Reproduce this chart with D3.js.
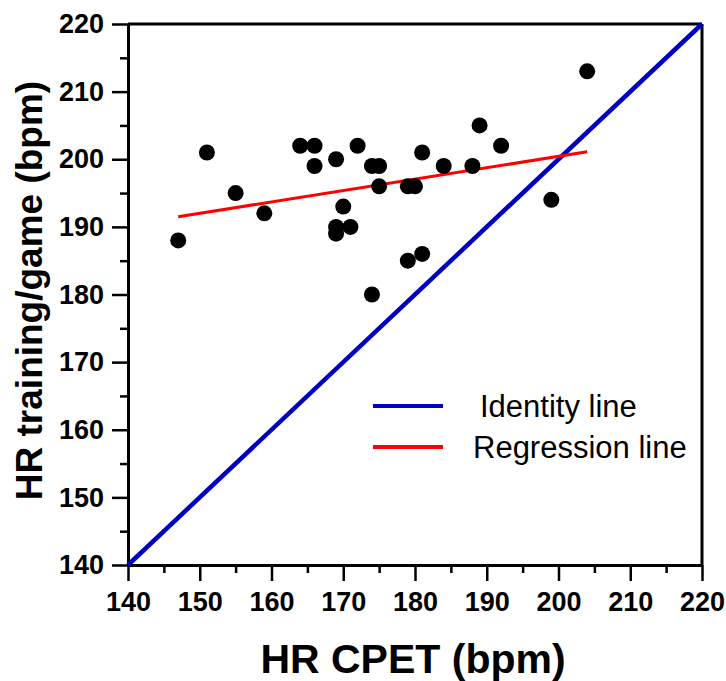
<!DOCTYPE html>
<meta charset="utf-8">
<style>
body { margin: 0; background: #fff; font-family: "Liberation Sans", Arial, sans-serif; }
.axis path, .axis line { stroke: #000; fill: none; }
.axis text { font-family: "Liberation Sans", Arial, sans-serif; font-weight: bold; font-size: 27px; fill: #000; }
</style>
<body>
<script src="https://cdn.jsdelivr.net/npm/d3@7"></script>
<script>
// HR from CPET (x) vs HR in training/game (y), one dot per player
var hrCpet = [147, 151, 155, 159, 164, 166, 166, 169, 172, 170, 169, 169, 171, 174,
              175, 175, 181, 179, 180, 179, 181, 174, 184, 188, 189, 192, 199, 204];
var hrGame = [188, 201, 195, 192, 202, 202, 199, 200, 202, 193, 190, 189, 190, 199,
              199, 196, 201, 196, 196, 185, 186, 180, 199, 199, 205, 202, 194, 213];
var regressionX = [147, 204];
var regressionY = [191.5, 201.1];
var identity = [140, 220];
var majorTicks = [140, 150, 160, 170, 180, 190, 200, 210, 220];
var minorTicks = [145, 155, 165, 175, 185, 195, 205, 215];
var legendLabels = ["Identity line", "Regression line"];

var margin = {top: 24, right: 24, bottom: 116, left: 128},
    width = 726 - margin.left - margin.right,
    height = 681 - margin.top - margin.bottom;

var x = d3.scaleLinear().domain([140, 220]).range([0, width]);
var y = d3.scaleLinear().domain([140, 220]).range([height, 0]);

var svg = d3.select("body").append("svg")
    .attr("width", 726)
    .attr("height", 681)
  .append("g")
    .attr("transform", "translate(" + margin.left + "," + margin.top + ")");

// box on top and right
svg.append("line").attr("x1", 0).attr("x2", width).attr("y1", 0).attr("y2", 0)
    .attr("stroke", "#000").attr("stroke-width", 3);
svg.append("line").attr("x1", width).attr("x2", width).attr("y1", 0).attr("y2", height)
    .attr("stroke", "#000").attr("stroke-width", 3);

// minor ticks
svg.append("g").attr("class", "axis")
    .attr("transform", "translate(0," + height + ")")
    .call(d3.axisBottom(x).tickValues(minorTicks).tickSize(8).tickFormat(""))
    .call(function(g) { g.select(".domain").remove(); g.selectAll("line").attr("stroke-width", 2.5); });
svg.append("g").attr("class", "axis")
    .call(d3.axisLeft(y).tickValues(minorTicks).tickSize(8).tickFormat(""))
    .call(function(g) { g.select(".domain").remove(); g.selectAll("line").attr("stroke-width", 2.5); });

// major axes
svg.append("g").attr("class", "axis")
    .attr("transform", "translate(0," + height + ")")
    .call(d3.axisBottom(x).tickValues(majorTicks).tickSize(16).tickSizeOuter(0).tickPadding(11))
    .call(function(g) {
      g.select(".domain").attr("stroke-width", 3);
      g.selectAll("line").attr("stroke-width", 2.5);
    });
svg.append("g").attr("class", "axis")
    .call(d3.axisLeft(y).tickValues(majorTicks).tickSize(16).tickSizeOuter(0).tickPadding(8))
    .call(function(g) {
      g.select(".domain").attr("stroke-width", 3);
      g.selectAll("line").attr("stroke-width", 2.5);
    });

// identity line
svg.append("line")
    .attr("x1", x(identity[0])).attr("y1", y(identity[0]))
    .attr("x2", x(identity[1])).attr("y2", y(identity[1]))
    .attr("stroke", "#0000c0").attr("stroke-width", 4.5);

// regression line
svg.append("line")
    .attr("x1", x(regressionX[0])).attr("y1", y(regressionY[0]))
    .attr("x2", x(regressionX[1])).attr("y2", y(regressionY[1]))
    .attr("stroke", "#ff0000").attr("stroke-width", 3);

// dots
svg.selectAll(".dot")
    .data(hrCpet)
  .enter().append("circle")
    .attr("class", "dot")
    .attr("r", 8)
    .attr("cx", function(d) { return x(d); })
    .attr("cy", function(d, i) { return y(hrGame[i]); })
    .attr("fill", "#000");

// legend
var legend = svg.append("g").attr("transform", "translate(245,382)");
var legendColors = ["#0000c0", "#ff0000"];
legendLabels.forEach(function(label, i) {
  legend.append("line")
      .attr("x1", 0).attr("x2", 70)
      .attr("y1", i * 41).attr("y2", i * 41)
      .attr("stroke", legendColors[i]).attr("stroke-width", 4);
  legend.append("text")
      .attr("x", i == 0 ? 107 : 100)
      .attr("y", i * 41 + 11)
      .style("font-size", "31px")
      .text(label);
});

// axis titles
svg.append("text")
    .attr("x", width / 2 - 2)
    .attr("y", height + 108)
    .attr("text-anchor", "middle")
    .style("font-size", "41px")
    .style("font-weight", "bold")
    .text("HR CPET (bpm)");

svg.append("text")
    .attr("transform", "rotate(-90)")
    .attr("x", -(height / 2) + 4)
    .attr("y", -86)
    .attr("text-anchor", "middle")
    .style("font-size", "37px")
    .style("font-weight", "bold")
    .text("HR training/game (bpm)");
</script>
</body>
